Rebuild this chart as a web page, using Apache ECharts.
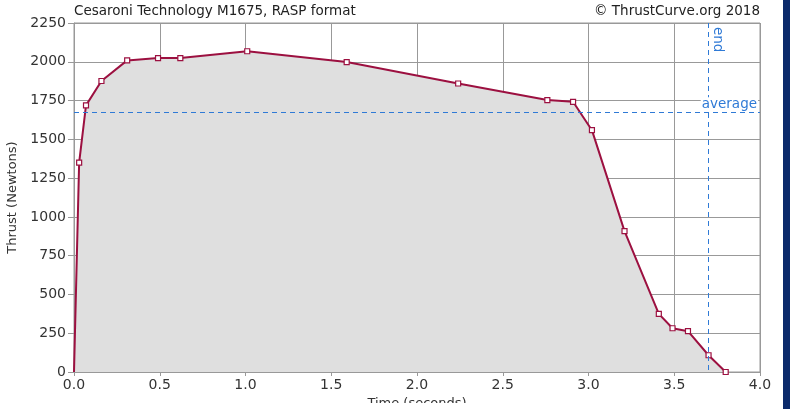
<!DOCTYPE html>
<html><head><meta charset="utf-8">
<script src="https://cdn.jsdelivr.net/npm/echarts@6/dist/echarts.min.js"></script>
<style>html,body{margin:0;padding:0;background:#fff;overflow:hidden;}
#c{width:793px;height:403px;overflow:hidden;}
#bar{position:absolute;left:783px;top:0;width:7px;height:409px;background:#0b2a6b;}</style>
</head><body><div id="c"></div><div id="bar"></div>
<script>
var titleText = 'Cesaroni Technology M1675, RASP format';
var creditText = '\u00a9 ThrustCurve.org 2018';
var times = [0, 0.03, 0.07, 0.16, 0.31, 0.49, 0.62, 1.01, 1.59, 2.24, 2.76, 2.91, 3.02, 3.21, 3.41, 3.49, 3.58, 3.70, 3.80];
var thrust = [0, 1350, 1719, 1876, 2009, 2024, 2024, 2068, 1998, 1860, 1753, 1742, 1559, 908, 375, 282, 263, 108, 0];
var averageThrust = 1675;
var burnEnd = 3.70;
var xTicks = [0, 0.5, 1.0, 1.5, 2.0, 2.5, 3.0, 3.5, 4.0];
var yTicks = [0, 250, 500, 750, 1000, 1250, 1500, 1750, 2000, 2250];

var font = 'DejaVu Sans';
var chart = echarts.init(document.getElementById('c'), null, { width: 793, height: 409 });
var data = times.map(function (t, i) {
  var d = { value: [t, thrust[i]] };
  if (i === 0) d.symbol = 'none';
  return d;
});
chart.setOption({
  animation: false,
  textStyle: { fontFamily: font },
  title: [
    { text: titleText, left: 74, top: 4, padding: 0, textStyle: { fontFamily: font, fontSize: 13.5, fontWeight: 'normal', color: '#222' } },
    { text: creditText, right: 33, top: 4, padding: 0, textStyle: { fontFamily: font, fontSize: 13.5, fontWeight: 'normal', color: '#222' } }
  ],
  grid: { left: 74, width: 686, top: 23, height: 349, containLabel: false, outerBoundsMode: 'none',
    show: true, borderColor: '#999', borderWidth: 1 },
  xAxis: {
    type: 'value', min: xTicks[0], max: xTicks[xTicks.length - 1], interval: 0.5,
    name: 'Time (seconds)', nameLocation: 'middle', nameGap: 25,
    nameTextStyle: { fontFamily: font, fontSize: 13, color: '#333' },
    axisLine: { show: true, lineStyle: { color: '#999' } },
    axisTick: { show: true, length: 4, lineStyle: { color: '#999' } },
    axisLabel: { fontFamily: font, fontSize: 14, color: '#333', margin: 6,
      formatter: function (v) { return v.toFixed(1); } },
    splitLine: { show: true, lineStyle: { color: '#999', width: 1 } }
  },
  yAxis: {
    type: 'value', min: yTicks[0], max: yTicks[yTicks.length - 1], interval: 250,
    name: 'Thrust (Newtons)', nameLocation: 'middle', nameGap: 47,
    nameTextStyle: { fontFamily: font, fontSize: 13, color: '#333' },
    axisLine: { show: true, lineStyle: { color: '#999' } },
    axisTick: { show: true, length: 6, lineStyle: { color: '#999' } },
    axisLabel: { fontFamily: font, fontSize: 14, color: '#333', margin: 8,
      formatter: function (v) { return String(v); } },
    splitLine: { show: true, lineStyle: { color: '#999', width: 1 } }
  },
  series: [{
    type: 'line', data: data, z: 3,
    symbol: 'rect', symbolSize: 5, showAllSymbol: true,
    lineStyle: { color: '#9c1040', width: 2 },
    itemStyle: { color: '#fff', borderColor: '#9c1040', borderWidth: 1.2 },
    areaStyle: { color: '#dfdfdf', opacity: 1 },
    markLine: {
      silent: true, symbol: 'none', z: 4,
      lineStyle: { color: '#2f7ad6', type: [5, 4], width: 1 },
      data: [
        { yAxis: averageThrust,
          lineStyle: { color: '#2f7ad6', type: [5, 4], width: 1 },
          label: { show: true, formatter: 'average', position: 'insideEndTop', distance: [2, 1],
            color: '#2f7ad6', fontFamily: font, fontSize: 13.5, backgroundColor: '#fff', padding: [0, 1, 0, 1] } },
        [ { coord: [burnEnd, yTicks[yTicks.length - 1]],
            lineStyle: { color: '#2f7ad6', type: [5, 4], width: 1 },
            label: { show: true, formatter: 'end', position: 'insideStartTop', distance: [3, 2],
              color: '#2f7ad6', fontFamily: font, fontSize: 13.5, backgroundColor: '#fff', padding: [0, 1, 0, 1] } },
          { coord: [burnEnd, 0] } ]
      ]
    }
  }]
});
</script></body></html>
